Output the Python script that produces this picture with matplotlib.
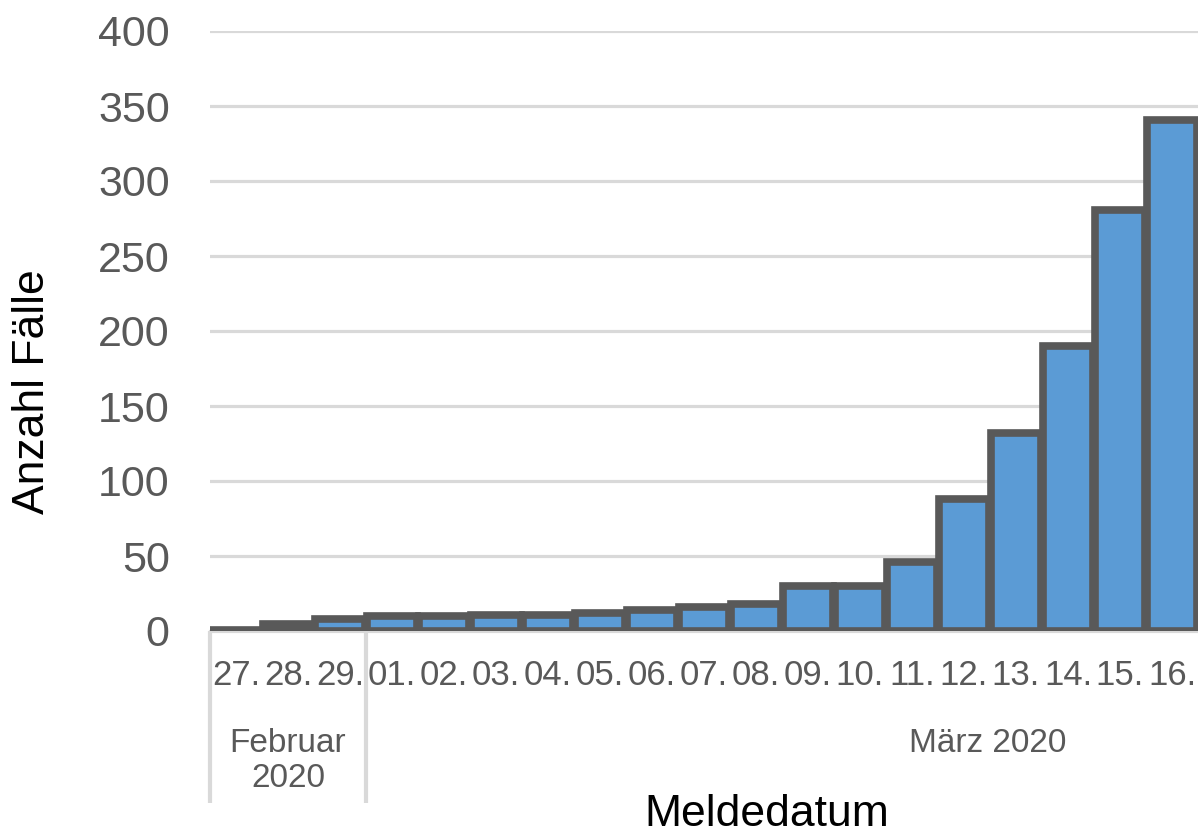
import matplotlib
matplotlib.use("Agg")
import matplotlib.pyplot as plt
import matplotlib.transforms as mtransforms

# Data
dates = ["27.", "28.", "29.", "01.", "02.", "03.", "04.", "05.", "06.", "07.",
         "08.", "09.", "10.", "11.", "12.", "13.", "14.", "15.", "16."]
cases = [1, 5, 8, 10, 10, 11, 11, 12, 14, 16, 18, 30, 30, 46, 88, 132, 190, 281, 341]
yticks = [0, 50, 100, 150, 200, 250, 300, 350, 400]
month_labels = ["Februar\n2020", "März 2020"]

plt.rcParams['font.family'] = ['Liberation Sans', 'DejaVu Sans']

W, H = 1198, 834
fig = plt.figure(figsize=(W / 100, H / 100), dpi=100)
ax = fig.add_axes([210 / W, (H - 631) / H, 988 / W, 600 / H])

x = list(range(len(dates)))
ax.bar(x, cases, width=0.97, color="#5B9BD5", edgecolor="#595959",
       linewidth=5.5, zorder=3)

ax.set_xlim(-0.5, len(dates) - 0.5)
ax.set_ylim(0, 400)
ax.set_yticks(yticks)
ax.set_yticklabels([str(v) for v in yticks], fontsize=31, color="#595959")
ax.tick_params(axis='y', length=0, pad=29)
ax.set_xticks([])
ax.yaxis.grid(True, color="#d9d9d9", linewidth=2.3, zorder=0)
ax.set_axisbelow(True)
for s in ["top", "right", "left"]:
    ax.spines[s].set_visible(False)
ax.spines["bottom"].set_color("#d9d9d9")
ax.spines["bottom"].set_linewidth(2.3)
ax.spines["bottom"].set_zorder(1)

trans = mtransforms.blended_transform_factory(ax.transData, ax.transAxes)

for xi, lab in zip(x, dates):
    ax.text(xi, (631 - 685) / 600, lab, transform=trans, ha="center",
            va="baseline", fontsize=25, color="#595959", clip_on=False)

# group separators
for xs in [-0.5, 2.5]:
    ax.plot([xs, xs], [0, (631 - 803) / 600], transform=trans, color="#d9d9d9",
            linewidth=3, clip_on=False, solid_capstyle="butt")

ax.text(1, (631 - 752) / 600, "Februar", transform=trans, ha="center",
        va="baseline", fontsize=24, color="#595959", clip_on=False)
ax.text(1, (631 - 787) / 600, "2020", transform=trans, ha="center",
        va="baseline", fontsize=24, color="#595959", clip_on=False)
ax.text((988 - 210) / 52 - 0.5, (631 - 752) / 600, month_labels[1],
        transform=trans, ha="center", va="baseline", fontsize=24,
        color="#595959", clip_on=False)

fig.text(767 / W, (H - 826) / H, "Meldedatum", ha="center", va="baseline",
         fontsize=32, color="#000000")
fig.text(33 / W, (H - 392) / H, "Anzahl Fälle", ha="center", va="center",
         rotation=90, fontsize=32, color="#000000")

fig.savefig("out.png", dpi=100)
